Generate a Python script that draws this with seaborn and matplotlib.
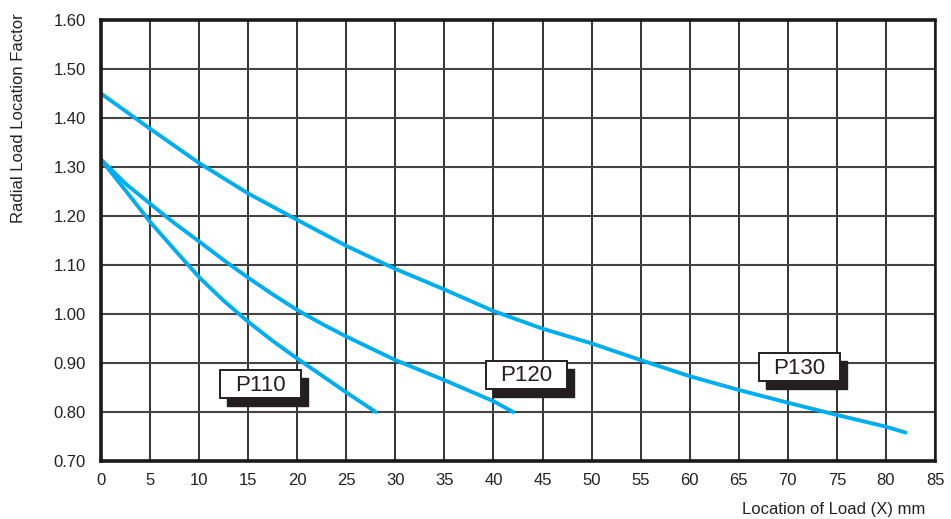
import numpy as np
import pandas as pd
import matplotlib
matplotlib.use("Agg")
import matplotlib.pyplot as plt
from matplotlib.patches import Rectangle
import seaborn as sns

# values
x_p110 = [0, 2.5, 5, 7.5, 10, 12.5, 15, 17.5, 20, 25, 28]
y_p110 = [1.315, 1.252, 1.188, 1.131, 1.075, 1.027, 0.984, 0.945, 0.909, 0.840, 0.80]
x_p120 = [0, 2.5, 5, 7.5, 10, 12.5, 15, 17.5, 20, 22.5, 25, 30, 35, 40, 42]
y_p120 = [1.315, 1.266, 1.225, 1.185, 1.148, 1.110, 1.074, 1.040, 1.008, 0.980,
          0.954, 0.906, 0.865, 0.822, 0.80]
x_p130 = [0, 5, 10, 15, 20, 25, 30, 35, 40, 45, 50, 55, 60, 65, 70, 75, 80, 82]
y_p130 = [1.45, 1.378, 1.308, 1.246, 1.192, 1.139, 1.092, 1.050, 1.006, 0.970, 0.940,
          0.906, 0.873, 0.845, 0.819, 0.794, 0.770, 0.758]
series_names = ["P110", "P120", "P130"]
label_pos = {"P110": (16.26, 0.857), "P120": (43.37, 0.8755), "P130": (71.15, 0.891)}

df = pd.concat([
    pd.DataFrame({"x": x_p110, "y": y_p110, "model": "P110"}),
    pd.DataFrame({"x": x_p120, "y": y_p120, "model": "P120"}),
    pd.DataFrame({"x": x_p130, "y": y_p130, "model": "P130"}),
])

sns.set_style("white")
plt.rcParams["font.family"] = ["Liberation Sans", "DejaVu Sans"]

fig = plt.figure(figsize=(9.51, 5.19), dpi=100)
ax = fig.add_axes([0.1062, 0.1118, 0.877, 0.8497])

sns.lineplot(data=df, x="x", y="y", hue="model", palette=["#00AEEF"] * 3,
             linewidth=2.8, legend=False, ax=ax, sort=False, estimator=None)

ax.set_xlim(0, 85)
ax.set_ylim(0.70, 1.60)
ax.set_xticks(np.arange(0, 86, 5))
yt = np.arange(0.70, 1.601, 0.10)
ax.set_yticks(yt)
ax.set_yticklabels([f"{v:.2f}" for v in yt])
ax.grid(True, axis="x", color="#111111", linewidth=1.2)
ax.grid(True, axis="y", color="#444444", linewidth=1.5)
ax.set_axisbelow(True)
for s in ax.spines.values():
    s.set_linewidth(2.6)
    s.set_color("#1a1a1a")
ax.spines["right"].set_linewidth(1.8)
ax.tick_params(axis="both", length=0, labelsize=12, colors="#222222")
ax.tick_params(axis="x", pad=9)
ax.tick_params(axis="y", pad=11)

ax.set_xlabel("")
ax.set_ylabel("")
fig.text(0.9727, 0.018, "Location of Load (X) mm", ha="right", va="center",
         fontsize=12, color="#222222")
fig.text(0.019, 0.975, "Radial Load Location Factor", ha="center", va="top",
         rotation=90, fontsize=12, color="#222222")

# boxed labels with drop shadow
bw, bh = 8.26, 0.0571
sx, sy = 0.72, -0.0155
for name in series_names:
    lx, ly = label_pos[name]
    ax.add_patch(Rectangle((lx - bw / 2 + sx, ly - bh / 2 + sy), bw, bh,
                           fc="#231f20", ec="#231f20", lw=1, zorder=4))
    ax.add_patch(Rectangle((lx - bw / 2, ly - bh / 2), bw, bh,
                           fc="white", ec="#231f20", lw=1.4, zorder=5))
    ax.text(lx, ly - 0.002, name, ha="center", va="center", fontsize=16,
            color="#231f20", zorder=6)

fig.savefig("out.png", dpi=100)
